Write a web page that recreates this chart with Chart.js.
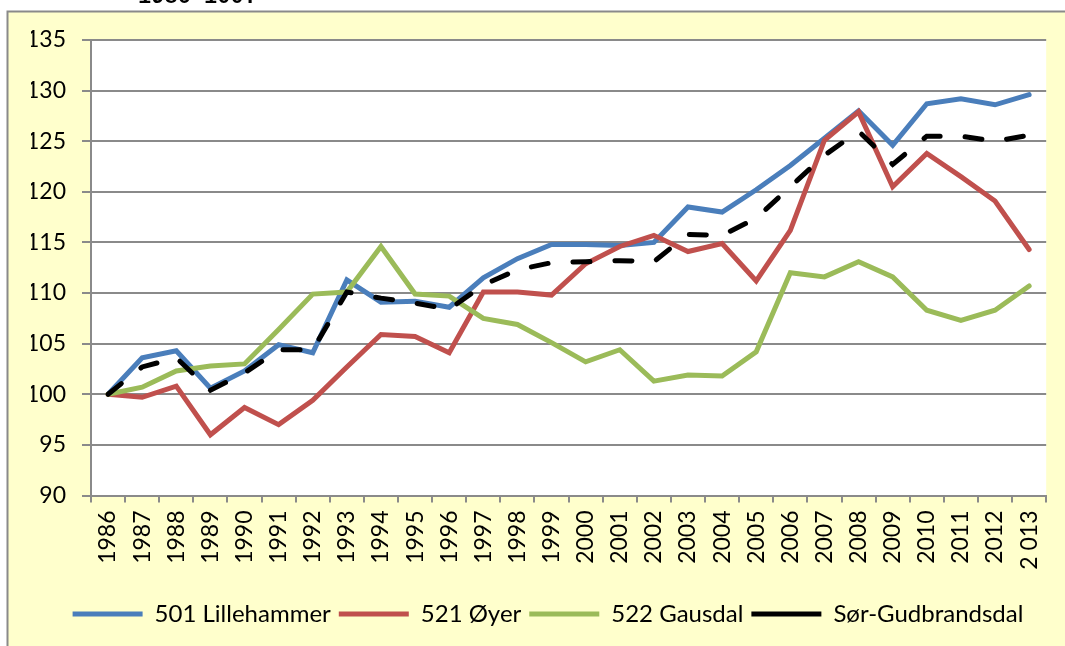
<!DOCTYPE html>
<html>
<head>
<meta charset="utf-8">
<style>
    html, body { margin: 0; padding: 0; background: #fff; }
    canvas { display: block; }
</style>
</head>
<body>
    <canvas id="myChart" width="1065" height="646"></canvas>
    <script src="https://cdn.jsdelivr.net/npm/chart.js"></script>
    <script>
        // år (indeks 1986 = 100)
        const years = ['1986', '1987', '1988', '1989', '1990', '1991', '1992', '1993', '1994', '1995',
            '1996', '1997', '1998', '1999', '2000', '2001', '2002', '2003', '2004', '2005',
            '2006', '2007', '2008', '2009', '2010', '2011', '2012', '2 013'];

        const lillehammer = [100, 103.6, 104.3, 100.6, 102.3, 104.9, 104.1, 111.3, 109.1, 109.2,
            108.6, 111.5, 113.4, 114.8, 114.8, 114.7, 115.0, 118.5, 118.0, 120.2,
            122.6, 125.3, 128.0, 124.6, 128.7, 129.2, 128.6, 129.6];

        const oyer = [100, 99.7, 100.8, 96.0, 98.7, 97.0, 99.4, 102.7, 105.9, 105.7,
            104.1, 110.1, 110.1, 109.8, 112.9, 114.6, 115.7, 114.1, 114.9, 111.2,
            116.2, 125.1, 127.9, 120.5, 123.8, 121.5, 119.1, 114.3];

        const gausdal = [100, 100.7, 102.3, 102.8, 103.0, 106.4, 109.9, 110.1, 114.6, 109.9,
            109.7, 107.5, 106.9, 105.1, 103.2, 104.4, 101.3, 101.9, 101.8, 104.2,
            112.0, 111.6, 113.1, 111.6, 108.3, 107.3, 108.3, 110.7];

        const sorGudbrandsdal = [100, 102.7, 103.6, 100.4, 102.1, 104.4, 104.4, 110.1, 109.5, 109.0,
            108.4, 110.8, 112.3, 113.0, 113.1, 113.2, 113.1, 115.8, 115.7, 117.4,
            120.5, 123.6, 126.0, 122.7, 125.5, 125.5, 125.0, 125.6];

        const yMin = 90;
        const yMax = 135;
        const yStep = 5;

        const gridGray = '#8a8a8a';
        const labelFont = { family: 'Lato', size: 23 };

        // gul ramme, hvit plottflate og avkuttet overskrift
        const framePlugin = {
            id: 'frame',
            beforeDraw(chart) {
                const { ctx, chartArea: a, width, height } = chart;
                ctx.save();
                ctx.fillStyle = '#ffffff';
                ctx.fillRect(0, 0, width, height);
                ctx.fillStyle = '#000000';
                ctx.font = 'bold 22px "Liberation Mono"';
                ctx.textBaseline = 'alphabetic';
                ctx.fillText('1986=100.', 138, 3);
                ctx.fillStyle = '#ffffcc';
                ctx.fillRect(7, 11, width - 7, height - 11);
                ctx.strokeStyle = '#8a8a8a';
                ctx.lineWidth = 2;
                ctx.beginPath();
                ctx.moveTo(7.5, height);
                ctx.lineTo(7.5, 11.5);
                ctx.lineTo(width, 11.5);
                ctx.stroke();
                ctx.fillStyle = '#ffffff';
                ctx.fillRect(a.left, a.top, a.right - a.left, a.bottom - a.top);
                ctx.restore();
            }
        };

        function lineSet(label, data, color, order, dash) {
            return {
                label: label,
                data: data,
                borderColor: color,
                backgroundColor: color,
                borderWidth: 5,
                borderCapStyle: 'round',
                borderJoinStyle: 'miter',
                borderDash: dash || [],
                pointRadius: 0,
                tension: 0,
                order: order
            };
        }

        new Chart(document.querySelector('#myChart'), {
            type: 'line',
            data: {
                labels: years,
                datasets: [
                    lineSet('501 Lillehammer', lillehammer, '#4a7ebb', 3),
                    lineSet('521 Øyer', oyer, '#c0504d', 2),
                    lineSet('522 Gausdal', gausdal, '#9bbb59', 1),
                    lineSet('Sør-Gudbrandsdal', sorGudbrandsdal, '#000000', 0, [17, 25])
                ]
            },
            options: {
                responsive: false,
                animation: false,
                devicePixelRatio: 1,
                layout: { padding: { left: 31, top: 40, right: 0, bottom: 10 } },
                plugins: {
                    title: { display: false },
                    tooltip: { enabled: false },
                    legend: {
                        position: 'bottom',
                        labels: {
                            usePointStyle: true,
                            pointStyle: 'line',
                            pointStyleWidth: 70,
                            boxHeight: 10,
                            padding: 8,
                            color: '#000000',
                            font: { family: 'Lato', size: 24 },
                            sort: (a, b) => a.datasetIndex - b.datasetIndex
                        }
                    }
                },
                scales: {
                    x: {
                        offset: true,
                        grid: {
                            offset: true,
                            drawOnChartArea: false,
                            drawTicks: true,
                            tickLength: 7,
                            color: gridGray,
                            lineWidth: 2
                        },
                        border: { display: true, color: gridGray, width: 2 },
                        ticks: {
                            autoSkip: false,
                            minRotation: 90,
                            maxRotation: 90,
                            padding: 8,
                            color: '#000000',
                            font: labelFont
                        },
                        afterFit(scale) { scale.height = 98.5; }
                    },
                    y: {
                        min: yMin,
                        max: yMax,
                        grid: {
                            color: gridGray,
                            lineWidth: 2,
                            tickLength: 9
                        },
                        border: { display: true, color: gridGray, width: 2 },
                        ticks: {
                            stepSize: yStep,
                            padding: 16,
                            color: '#000000',
                            font: labelFont
                        },
                        afterFit(scale) { scale.width = 60; }
                    },
                    yRight: {
                        position: 'right',
                        display: true,
                        grid: { display: false },
                        border: { display: false },
                        ticks: { display: false },
                        afterFit(scale) { scale.width = 15; }
                    }
                }
            },
            plugins: [framePlugin]
        });
    </script>
</body>
</html>
